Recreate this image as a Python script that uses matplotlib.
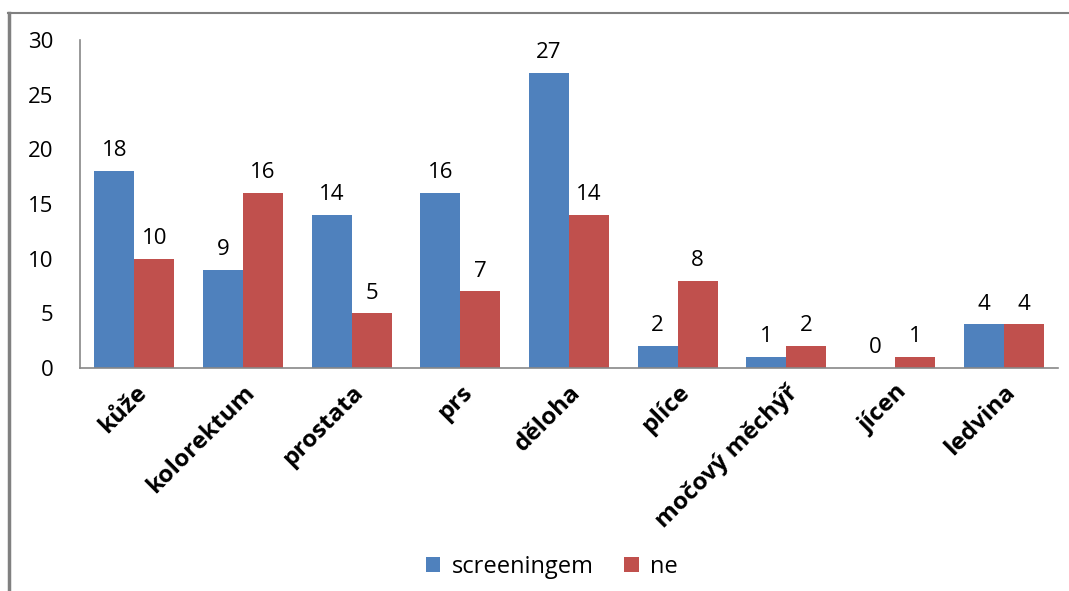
import matplotlib
matplotlib.use("Agg")
import matplotlib.pyplot as plt
import numpy as np

# data
categories = ["kůže", "kolorektum", "prostata", "prs", "děloha",
              "plíce", "močový měchýř", "jícen", "ledvina"]
screeningem = [18, 9, 14, 16, 27, 2, 1, 0, 4]
ne = [10, 16, 5, 7, 14, 8, 2, 1, 4]
y_ticks = [0, 5, 10, 15, 20, 25, 30]

blue = "#4F81BD"
red = "#C0504D"

plt.rcParams['font.family'] = ['Open Sans', 'DejaVu Sans']

fig = plt.figure(figsize=(10.69, 5.91), dpi=100)
ax = fig.add_axes([80 / 1069, 1 - 368 / 591, 978 / 1069, 328 / 591])

x = np.arange(len(categories))
w = 0.368
b1 = ax.bar(x - w / 2, screeningem, w, color=blue, label="screeningem")
b2 = ax.bar(x + w / 2, ne, w, color=red, label="ne")

for bars, vals in ((b1, screeningem), (b2, ne)):
    for bar, v in zip(bars, vals):
        ax.annotate(str(v), (bar.get_x() + bar.get_width() / 2, v),
                    xytext=(0, 7), textcoords="offset points",
                    ha="center", va="bottom", fontsize=16)

ax.set_xlim(-0.5, len(categories) - 0.5)
ax.set_ylim(0, 30)
ax.set_yticks(y_ticks)
ax.set_yticklabels([str(t) for t in y_ticks], fontsize=16)
ax.set_xticks(x)
ax.set_xticklabels(categories, rotation=45, ha="right", va="top",
                   rotation_mode="anchor", fontsize=17.5, fontweight="bold")
ax.tick_params(axis="both", length=0)
ax.tick_params(axis="y", pad=19)
ax.tick_params(axis="x", pad=9)

for s in ("top", "right"):
    ax.spines[s].set_visible(False)
for s in ("left", "bottom"):
    ax.spines[s].set_color("#888888")
    ax.spines[s].set_linewidth(1.2)

fig.legend(loc="center", bbox_to_anchor=(552 / 1069, 1 - 567 / 591), ncol=2,
           frameon=False, fontsize=17, handlelength=0.6, handleheight=0.6,
           handletextpad=0.5, columnspacing=1.3)

# outer frame (left and top edges of the chart area)
fig.add_artist(plt.Line2D([9 / 1069, 9 / 1069], [0, 1 - 13 / 591],
                          transform=fig.transFigure, color="#808080", lw=2.5))
fig.add_artist(plt.Line2D([8 / 1069, 1], [1 - 13 / 591, 1 - 13 / 591],
                          transform=fig.transFigure, color="#808080", lw=1.5))

fig.savefig("out.png", dpi=100)
